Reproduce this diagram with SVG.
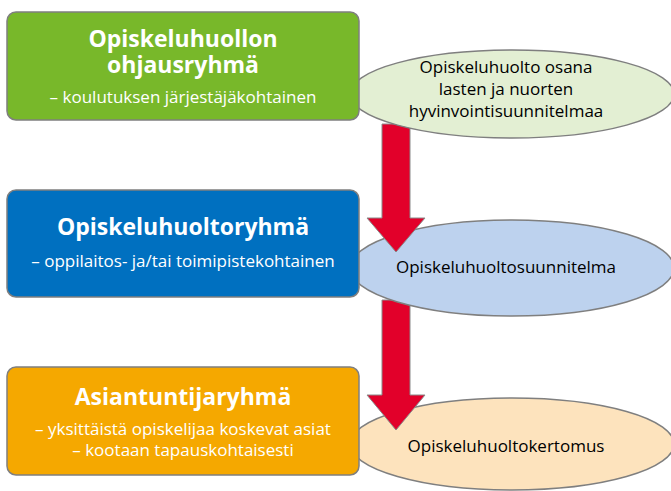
<svg xmlns="http://www.w3.org/2000/svg" width="671" height="491" viewBox="0 0 671 491">
<style>
.box{stroke:#7f7f7f;stroke-width:1.5}
.ell{stroke:#7f7f7f;stroke-width:1.5}
.arrow{fill:#e2002a;stroke:#8a8a8a;stroke-width:1}
.t{font-family:"Open Sans","Noto Sans",sans-serif;fill:#fff;text-anchor:middle}
.title{font-weight:bold;font-size:23px}
.sub{font-size:17px}
.et{font-family:"Open Sans","Noto Sans",sans-serif;fill:#000;text-anchor:middle;font-size:17px}
</style>
<rect width="671" height="491" fill="#fff"/>
<g id="ellipse3"><ellipse class="ell" cx="512" cy="444" rx="162" ry="46" fill="#fde3bd"/>
<text class="et" x="506" y="452">Opiskeluhuoltokertomus</text></g>
<g id="connectors">
<polygon id="arrow2" class="arrow" points="382,300 410,300 410,395 425,395 396,430 367,395 382,395"/>
</g>
<g id="ellipse2"><ellipse class="ell" cx="512" cy="268" rx="162" ry="48" fill="#bdd2ee"/>
<text class="et" x="506" y="273">Opiskeluhuoltosuunnitelma</text></g>
<g id="connectors-upper">
<polygon id="arrow1" class="arrow" points="382,124 410,124 410,218 425,218 396,252 367,218 382,218"/>
</g>
<g id="ellipse1"><ellipse class="ell" cx="512" cy="94" rx="162" ry="44" fill="#e3efd3"/>
<text class="et" x="506" y="73">Opiskeluhuolto osana</text>
<text class="et" x="506" y="95">lasten ja nuorten</text>
<text class="et" x="506" y="117">hyvinvointisuunnitelmaa</text></g>
<g id="box1"><rect class="box" x="7" y="12" width="352" height="108" rx="9" fill="#78b82a"/>
<text class="t title" x="183" y="47">Opiskeluhuollon<tspan x="183" dy="26">ohjausryhmä</tspan></text>
<text class="t sub" x="183" y="103">– koulutuksen järjestäjäkohtainen</text></g>
<g id="box2"><rect class="box" x="7" y="190" width="352" height="107" rx="9" fill="#0070c0"/>
<text class="t title" x="183" y="235">Opiskeluhuoltoryhmä</text>
<text class="t sub" x="183" y="267">– oppilaitos- ja/tai toimipistekohtainen</text></g>
<g id="box3"><rect class="box" x="7" y="367" width="352" height="108" rx="9" fill="#f5a800"/>
<text class="t title" x="183" y="405">Asiantuntijaryhmä</text>
<text class="t sub" x="183" y="435">– yksittäistä opiskelijaa koskevat asiat</text>
<text class="t sub" x="183" y="456">– kootaan tapauskohtaisesti</text></g>
</svg>
